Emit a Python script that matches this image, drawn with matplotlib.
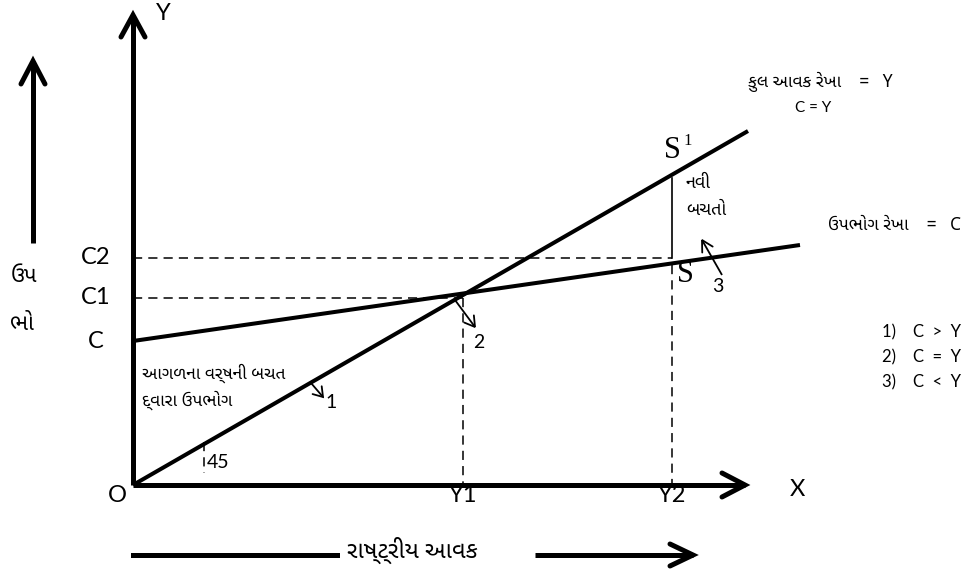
import matplotlib
matplotlib.use('Agg')
import matplotlib.pyplot as plt
from matplotlib import font_manager, ft2font
import numpy as np


def find_gujarati_font():
    # prefer a proper gujarati sans, else anything carrying the letters
    paths = sorted(set([f.fname for f in font_manager.fontManager.ttflist]
                       + font_manager.findSystemFonts()))
    wanted = ['NotoSansGujarati-Regular', 'NotoSansGujarati[', 'HindVadodara-Regular',
              'AnekGujarati', 'Farsan', 'FreeSans']
    ordered = []
    for w in wanted:
        ordered += [p for p in paths if w in p]
    ordered += paths
    for p in ordered:
        try:
            cmap = ft2font.FT2Font(p).get_charmap()
        except Exception:
            continue
        if 0x0A95 in cmap:
            font_manager.fontManager.addfont(p)
            return font_manager.FontProperties(fname=p).get_name()
    return None


guj = find_gujarati_font()
FAM = ['Lato', 'DejaVu Sans']
GUJ = FAM if guj is None else [guj, 'Lato', 'DejaVu Sans']
SERIF = ['Liberation Serif', 'DejaVu Serif']

# diagram geometry, in pixels of the 973x571 picture (y grows downward)
origin = (133, 485)
y_axis_tip = (133, 15)
x_axis_tip = (745, 485)
income_line = [(133, 485), (748, 131)]      # C = Y, 45 degree line
cons_line = [(133, 341), (800, 245)]        # consumption line
c_levels = [('C', 341), ('C1', 298), ('C2', 258)]
y_levels = [('Y1', 463), ('Y2', 672)]
s_top, s_bottom = 178, 258
conditions = ['1)    C  >  Y', '2)    C  =  Y', '3)    C  <  Y']

fig = plt.figure(figsize=(9.73, 5.71), dpi=100)
ax = fig.add_axes([0, 0, 1, 1])
ax.set_xlim(0, 973)
ax.set_ylim(571, 0)
ax.axis('off')


def chevron(tip, back, length, half, lw):
    tip = np.array(tip, float)
    back = np.array(back, float)
    d = tip - back
    d /= np.hypot(*d)
    n = np.array([-d[1], d[0]])
    a = tip - d * length + n * half
    b = tip - d * length - n * half
    ax.plot([a[0], tip[0], b[0]], [a[1], tip[1], b[1]], color='k', lw=lw,
            solid_capstyle='round', solid_joinstyle='miter')


def arrow(start, tip, lw, length, half):
    ax.plot([start[0], tip[0]], [start[1], tip[1]], color='k', lw=lw, solid_capstyle='butt')
    chevron(tip, start, length, half, lw)


# axes
arrow(origin, y_axis_tip, 3.6, 22, 12)
arrow(origin, x_axis_tip, 3.6, 23, 12)

# income and consumption lines
ax.plot(*zip(*income_line), color='k', lw=2.9, solid_capstyle='butt')
ax.plot(*zip(*cons_line), color='k', lw=2.9, solid_capstyle='butt')

# dashed guides
dash = dict(color='k', lw=1.1, dashes=(6, 4))
c1 = dict(c_levels)['C1']
c2 = dict(c_levels)['C2']
y1 = dict(y_levels)['Y1']
y2 = dict(y_levels)['Y2']
ax.plot([origin[0], y1], [c1, c1], **dash)
ax.plot([y1, y1], [c1, origin[1]], **dash)
ax.plot([origin[0], y2], [c2, c2], **dash)
ax.plot([y2, y2], [265, origin[1]], **dash)
ax.plot([204, 204], [442, 473], **dash)
ax.plot([y2, y2], [s_top, s_bottom], color='k', lw=1.2)

# small pointer arrows 1, 2, 3
arrow((311, 383), (323, 397), 1.3, 9, 6)
arrow((455, 300), (475, 327), 1.3, 10, 6)
arrow((722, 275), (702, 240), 1.3, 11, 6)

# labels
for name, yy in c_levels:
    ax.text(96, yy, name, fontsize=17, family=FAM, ha='center', va='center')
for name, xx in y_levels:
    ax.text(xx, 496, name, fontsize=17, family=FAM, ha='center', va='center')
ax.text(117, 496, 'O', fontsize=17, family=FAM, ha='center', va='center')
ax.text(163, 13, 'Y', fontsize=17, family=FAM, ha='center', va='center')
ax.text(797, 490, 'X', fontsize=17, family=FAM, ha='center', va='center')
ax.text(218, 462, '45', fontsize=14, family=FAM, ha='center', va='center')
ax.text(331, 402, '1', fontsize=14, family=FAM, ha='center', va='center')
ax.text(479, 343, '2', fontsize=14, family=FAM, ha='center', va='center')
ax.text(718, 286, '3', fontsize=14, family=FAM, ha='center', va='center')

ax.text(672, 151, 'S', fontsize=22, family=SERIF, ha='center', va='center')
ax.text(688, 141, '1', fontsize=12, family=SERIF, ha='center', va='center')
ax.text(685, 274, 'S', fontsize=22, family=SERIF, ha='center', va='center')

ax.text(686, 183, 'નવી', fontsize=13, family=GUJ, ha='left', va='center')
ax.text(686, 210, 'બચતો', fontsize=13, family=GUJ, ha='left', va='center')
ax.text(142, 373, 'આગળના વર્ષની બચત', fontsize=12.5, family=GUJ, ha='left', va='center')
ax.text(142, 400, 'દ્વારા ઉપભોગ', fontsize=12.5, family=GUJ, ha='left', va='center')

ax.text(748, 82, 'કુલ આવક રેખા    =   Y', fontsize=12.5, family=GUJ, ha='left', va='center')
ax.text(795, 108, 'C = Y', fontsize=11, family=FAM, ha='left', va='center')
ax.text(828, 225, 'ઉપભોગ રેખા    =   C', fontsize=12.5, family=GUJ, ha='left', va='center')

for i, cond in enumerate(conditions):
    ax.text(882, 332 + 25 * i, cond, fontsize=12, family=FAM, ha='left', va='center')

# left vertical arrow and label
arrow((33, 243), (33, 61), 3.6, 23, 12)
ax.text(24, 277, 'ઉપ', fontsize=16, family=GUJ, ha='center', va='center')
ax.text(22, 325, 'ભો', fontsize=16, family=GUJ, ha='center', va='center')

# bottom arrow and label
ax.plot([133, 337], [555, 555], color='k', lw=3.6)
arrow((535, 555), (693, 555), 3.6, 23, 11)
ax.text(347, 550, 'રાષ્ટ્રીય આવક', fontsize=17, family=GUJ, ha='left', va='center')

fig.savefig('out.png', dpi=100)
